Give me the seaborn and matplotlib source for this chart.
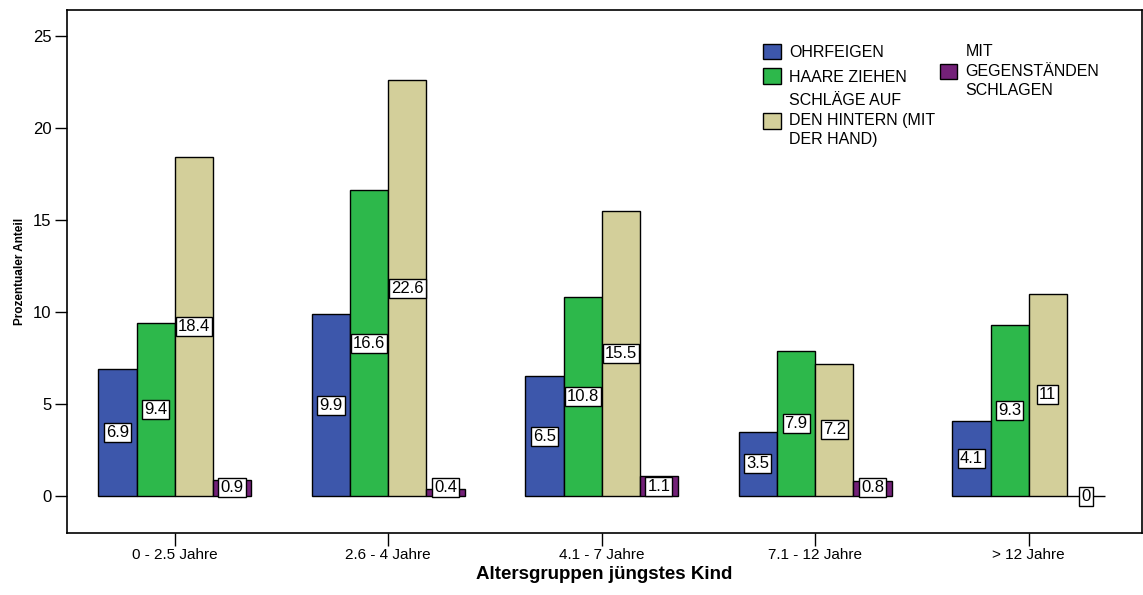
import matplotlib
matplotlib.use("Agg")
import matplotlib.pyplot as plt
import seaborn as sns
import pandas as pd
from matplotlib.patches import Patch

groups = ["0 - 2.5 Jahre", "2.6 - 4 Jahre", "4.1 - 7 Jahre", "7.1 - 12 Jahre", "> 12 Jahre"]
series = ["OHRFEIGEN", "HAARE ZIEHEN", "SCHLÄGE AUF\nDEN HINTERN (MIT\nDER HAND)", "MIT\nGEGENSTÄNDEN\nSCHLAGEN"]
ohrfeigen = [6.9, 9.9, 6.5, 3.5, 4.1]
haare_ziehen = [9.4, 16.6, 10.8, 7.9, 9.3]
schlaege_hintern = [18.4, 22.6, 15.5, 7.2, 11.0]
gegenstaende = [0.9, 0.4, 1.1, 0.8, 0.0]
colors = ["#3D57AB", "#2DB84B", "#D3CF9A", "#732178"]
yticks = [0, 5, 10, 15, 20, 25]

sns.set_theme(style="white")
plt.rcParams["font.family"] = ["Liberation Sans", "DejaVu Sans"]
plt.rcParams["text.color"] = "black"
plt.rcParams["axes.labelcolor"] = "black"
plt.rcParams["xtick.color"] = "black"
plt.rcParams["ytick.color"] = "black"

rows = []
for name, vals in zip(series, [ohrfeigen, haare_ziehen, schlaege_hintern, gegenstaende]):
    for g, v in zip(groups, vals):
        rows.append({"Gruppe": g, "Art": name, "Wert": v})
df = pd.DataFrame(rows)

fig = plt.figure(figsize=(11.43, 5.95), dpi=100)
ax = fig.add_axes([67 / 1143, 62 / 595, 1 - 67 / 1143 - 0.001, (533 - 10) / 595])

sns.barplot(data=df, x="Gruppe", y="Wert", hue="Art", order=groups, hue_order=series,
            palette=colors, width=0.715, edgecolor="black", linewidth=1.0,
            saturation=1, errorbar=None, legend=False, ax=ax)

# value labels at half height of each bar
for cont, vals in zip(ax.containers, [ohrfeigen, haare_ziehen, schlaege_hintern, gegenstaende]):
    for bar, v in zip(cont.patches, vals):
        cx = bar.get_x() + bar.get_width() / 2
        ypos = max(v / 2, 0.45) if v > 0 else 0.0
        ax.text(cx, ypos, f"{v:g}", ha="center", va="center", fontsize=12,
                bbox=dict(boxstyle="square,pad=0.12", fc="white", ec="black", lw=1.0), zorder=5)

ax.set_ylim(-2.0, 26.4)
ax.set_xlim(-0.505, 4.53)
ax.set_yticks(yticks)
ax.set_yticklabels([str(t) for t in yticks], fontsize=12)
ax.set_xticks(range(len(groups)))
ax.set_xticklabels(groups, fontsize=11)
ax.tick_params(axis="both", direction="out", length=9, width=1, color="black", pad=2,
               left=True, bottom=True)
for s in ax.spines.values():
    s.set_visible(True)
    s.set_color("black")
    s.set_linewidth(1.2)

ax.set_xlabel("Altersgruppen jüngstes Kind", fontsize=13.5, fontweight="bold", labelpad=3)
ax.set_ylabel("Prozentualer Anteil", fontsize=8.5, fontweight="bold", labelpad=5)

handles = [Patch(facecolor=c, edgecolor="black", linewidth=1.0) for c in colors]
leg1 = ax.legend(handles[:3], series[:3], loc="upper left", bbox_to_anchor=(0.642, 0.948),
                 frameon=False, fontsize=11.5, handlelength=1.1, handleheight=1.1,
                 handletextpad=0.5, labelspacing=0.55, borderaxespad=0)
for t in leg1.get_texts():
    t.set_linespacing(1.38)
ax.add_artist(leg1)
leg2 = ax.legend(handles[3:], series[3:], loc="upper left", bbox_to_anchor=(0.806, 0.947),
                 frameon=False, fontsize=11.5, handlelength=1.1, handleheight=1.1,
                 handletextpad=0.5, borderaxespad=0)
for t in leg2.get_texts():
    t.set_linespacing(1.38)

fig.savefig("out.png", dpi=100)
